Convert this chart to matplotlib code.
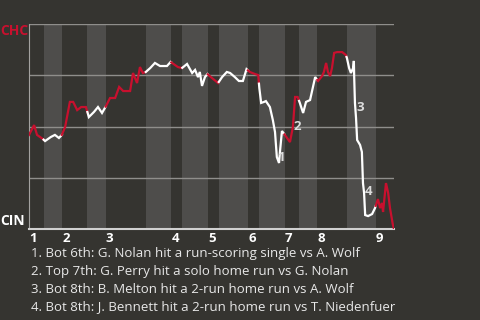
import numpy as np
import matplotlib.pyplot as plt

plt.rcParams['font.family'] = ['Open Sans', 'DejaVu Sans']

# plate appearances per half-inning, top 1st .. top 9th
half_inning_pa = [4, 5, 7, 5, 11, 7, 3, 7, 3, 8, 3, 7, 4, 5, 8, 8, 5]
inning_labels = ['1', '2', '3', '4', '5', '6', '7', '8', '9']

# CHC win probability through the game (x = plate appearance count)
wp_x = [0.0, 1.4, 2.2, 3.8, 4.4, 5.2, 6.0, 7.1, 8.2, 9.0,
        9.9, 11.2, 12.1, 13.2, 14.3, 15.6, 16.4, 17.8, 18.9, 20.0,
        21.1, 22.2, 23.6, 24.7, 25.8, 27.7, 28.5, 29.6, 30.4, 31.2,
        32.0, 33.2, 34.5, 35.9, 37.8, 38.8, 40.0, 40.8, 41.9, 43.3,
        44.7, 45.5, 46.3, 46.8, 47.4, 48.2, 48.9, 50.1, 51.8, 52.9,
        54.2, 55.1, 56.4, 57.5, 58.6, 59.6, 60.5, 61.9, 62.8, 63.1,
        63.6, 64.4, 64.9, 66.0, 66.8, 67.4, 67.9, 68.5, 68.8, 69.3,
        70.1, 71.5, 72.3, 72.9, 73.6, 74.2, 75.1, 75.9, 77.0, 78.4,
        79.2, 80.3, 80.8, 81.4, 81.9, 82.5, 83.0, 83.6, 84.4, 85.8,
        86.8, 87.1, 87.7, 88.2, 88.8, 89.0, 89.1, 89.3, 89.6, 89.9,
        90.7, 91.2, 91.5, 91.8, 92.1, 92.9, 94.0, 94.8, 95.6, 96.2,
        96.7, 97.0, 97.8, 98.4, 98.9, 99.7, 100.0]
wp_y = [0.459, 0.507, 0.459, 0.439, 0.429, 0.439, 0.449, 0.459, 0.444, 0.459,
        0.498, 0.620, 0.620, 0.580, 0.595, 0.595, 0.546, 0.571, 0.595, 0.566,
        0.600, 0.639, 0.639, 0.693, 0.673, 0.673, 0.761, 0.712, 0.790, 0.761,
        0.766, 0.785, 0.810, 0.795, 0.795, 0.815, 0.800, 0.790, 0.785, 0.805,
        0.761, 0.776, 0.741, 0.766, 0.698, 0.741, 0.756, 0.737, 0.712, 0.741,
        0.766, 0.761, 0.741, 0.722, 0.722, 0.780, 0.766, 0.756, 0.751, 0.688,
        0.615, 0.620, 0.624, 0.595, 0.532, 0.473, 0.351, 0.322, 0.385, 0.478,
        0.459, 0.424, 0.498, 0.644, 0.644, 0.615, 0.566, 0.620, 0.629, 0.741,
        0.722, 0.746, 0.766, 0.810, 0.766, 0.746, 0.785, 0.859, 0.863, 0.863,
        0.849, 0.834, 0.785, 0.761, 0.785, 0.820, 0.737, 0.615, 0.541, 0.434,
        0.410, 0.376, 0.224, 0.176, 0.068, 0.063, 0.073, 0.102, 0.146, 0.102,
        0.127, 0.083, 0.224, 0.176, 0.102, 0.020, 0.0]

# key plays
event_x = [67.9, 72.3, 89.4, 91.7]
event_y = [0.351, 0.498, 0.595, 0.185]
event_text = [
    '1. Bot 6th: G. Nolan hit a run-scoring single vs A. Wolf',
    '2. Top 7th: G. Perry hit a solo home run vs G. Nolan',
    '3. Bot 8th: B. Melton hit a 2-run home run vs A. Wolf',
    '4. Bot 8th: J. Bennett hit a 2-run home run vs T. Niedenfuer',
]

BG = '#353430'
BAND = '#4e4d4b'
RED = '#c8102e'
WHITE = '#ffffff'

fig = plt.figure(figsize=(4.8, 3.2), dpi=100, facecolor=BG)
ax = fig.add_axes([29 / 480, 91 / 320, 365 / 480, 205 / 320])
ax.set_facecolor(BG)

bounds = np.concatenate([[0], np.cumsum(half_inning_pa)])
x = np.array(wp_x)
y = np.array(wp_y)

for i in range(len(half_inning_pa)):
    a, b = bounds[i], bounds[i + 1]
    if i % 2 == 1:
        ax.axvspan(a, b, color=BAND, lw=0, zorder=0)
    inside = (x > a) & (x < b)
    sx = np.concatenate([[a], x[inside], [b]])
    sy = np.concatenate([[np.interp(a, x, y)], y[inside], [np.interp(b, x, y)]])
    ax.plot(sx, sy, color=RED if i % 2 == 0 else WHITE, lw=1.6,
            solid_joinstyle='miter', zorder=3)

for g in [0.25, 0.5, 0.75, 1.0]:
    ax.axhline(g, color='#8f8e8b', lw=1, zorder=1)

ax.set_xlim(0, bounds[-1])
ax.set_ylim(0, 1)
ax.set_xticks([])
ax.set_yticks([])
for s in ['top', 'right']:
    ax.spines[s].set_visible(False)
ax.spines['left'].set_color('#a3a2a0')
ax.spines['bottom'].set_color('#d0d0d0')
ax.spines['bottom'].set_linewidth(1.5)

# inning numbers under the start of each top half
for k, lab in enumerate(inning_labels):
    ax.annotate(lab, xy=(bounds[2 * k], 0), xytext=(4, -10),
                textcoords='offset pixels', ha='center', va='center',
                color=WHITE, fontsize=9.5, fontweight='bold')

for k in range(len(event_x)):
    ax.annotate(str(k + 1), xy=(event_x[k], event_y[k]), xytext=(4.5, 0),
                textcoords='offset pixels', ha='center', va='center',
                color='#dcdcdc', fontsize=9.5, fontweight='bold', zorder=4)

fig.text(14 / 480, 1 - 31 / 320, 'CHC', color=RED, fontsize=10,
         fontweight='bold', ha='center', va='center')
fig.text(13 / 480, 1 - 221 / 320, 'CIN', color=WHITE, fontsize=10,
         fontweight='bold', ha='center', va='center')

for k, line in enumerate(event_text):
    fig.text(31 / 480, 1 - (254 + 17.6 * k) / 320, line, color='#e8e8e8',
             fontsize=9.5, ha='left', va='center')

fig.savefig('out.png', dpi=100, facecolor=BG)
